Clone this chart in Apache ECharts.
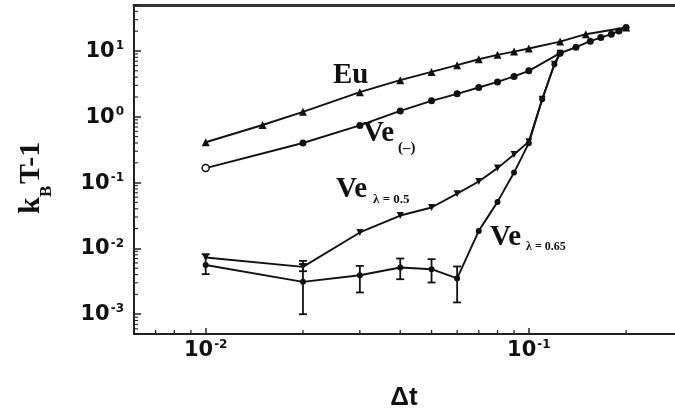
<!DOCTYPE html>
<html><head><meta charset="utf-8">
<script src="https://cdn.jsdelivr.net/npm/echarts@6/dist/echarts.min.js"></script>
<style>html,body{margin:0;padding:0;background:#fff}#c{width:675px;height:416px}</style>
</head><body><div id="c"></div>
<script>
// ---- data ----
const euX  = [0.01, 0.015, 0.02, 0.03, 0.04, 0.05, 0.06, 0.07, 0.08, 0.09, 0.1, 0.125, 0.15, 0.2];
const euY  = [0.41, 0.75, 1.19, 2.37, 3.6, 4.81, 6.09, 7.5, 8.73, 9.8, 10.9, 13.9, 18.0, 22.8];
const veX  = [0.01, 0.02, 0.03, 0.04, 0.05, 0.06, 0.07, 0.08, 0.09, 0.1, 0.125, 0.14, 0.155, 0.167, 0.18, 0.19, 0.2];
const veY  = [0.166, 0.40, 0.74, 1.23, 1.75, 2.23, 2.79, 3.39, 4.10, 4.99, 9.26, 11.4, 14.1, 16.0, 18.0, 20.2, 22.8];
const l5X  = [0.01, 0.02, 0.03, 0.04, 0.05, 0.06, 0.07, 0.08, 0.09, 0.1, 0.11, 0.12, 0.125];
const l5Y  = [0.00728, 0.00524, 0.01746, 0.0316, 0.0418, 0.0678, 0.104, 0.166, 0.267, 0.419, 1.85, 6.3, 9.26];
const l65X = [0.01, 0.02, 0.03, 0.04, 0.05, 0.06, 0.07, 0.08, 0.09, 0.1, 0.11, 0.12, 0.125];
const l65Y = [0.0056, 0.0031, 0.0039, 0.00513, 0.00483, 0.00349, 0.01845, 0.0509, 0.142, 0.397, 1.85, 6.3, 9.26];
// error bars: x, low, high
const errX    = [0.01, 0.02, 0.03, 0.04, 0.05, 0.06, 0.02];
const errLow  = [0.00406, 0.001, 0.00214, 0.0034, 0.00303, 0.00151, 0.0045];
const errHigh = [0.00817, 0.00575, 0.00542, 0.00702, 0.00686, 0.00531, 0.00646];
// axes
const xMin = 0.006, xMax = 0.3, yMin = 5e-4, yMax = 50;
const xMinorTicks = [0.007, 0.008, 0.009, 0.02, 0.03, 0.04, 0.05, 0.06, 0.07, 0.08, 0.09, 0.2];
const yMinorTicks = [6e-4, 7e-4, 8e-4, 9e-4,
  0.002, 0.003, 0.004, 0.005, 0.006, 0.007, 0.008, 0.009,
  0.02, 0.03, 0.04, 0.05, 0.06, 0.07, 0.08, 0.09,
  0.2, 0.3, 0.4, 0.5, 0.6, 0.7, 0.8, 0.9,
  2, 3, 4, 5, 6, 7, 8, 9, 20, 30, 40];

const INK = '#111';
const zip = (a, b) => a.map((v, i) => [v, b[i]]);
const powLabel = v => {
  const l = Math.log10(v);
  if (Math.abs(l - Math.round(l)) > 1e-6) return '';
  return '{b|10}{s|' + Math.round(l) + '}';
};
const labelRich = {
  b: {fontFamily: '"DejaVu Sans", "Liberation Sans", Arial', fontWeight: 'bold', fontSize: 21, color: INK, lineHeight: 22, verticalAlign: 'bottom'},
  s: {fontFamily: '"DejaVu Sans", "Liberation Sans", Arial', fontWeight: 'bold', fontSize: 12, color: INK, lineHeight: 22, verticalAlign: 'top', padding: [0, 0, 0, 1]}
};
const lineSeries = (name, xs, ys, extra) => Object.assign({
  name, type: 'line', data: zip(xs, ys), symbolSize: 7,
  lineStyle: {color: INK, width: 1.9}, itemStyle: {color: INK},
  showSymbol: true, animation: false, z: 3
}, extra);

const chart = echarts.init(document.getElementById('c'), null, {renderer: 'canvas'});
const veData = zip(veX, veY).map((p, i) => i === 0
  ? {value: p, itemStyle: {color: '#fff', borderColor: INK, borderWidth: 1.5}} : p);

const serif = '"Liberation Serif", "Times New Roman", serif';
chart.setOption({
  animation: false,
  backgroundColor: '#fff',
  grid: {left: 134, top: 5, right: -8, bottom: 82, outerBoundsMode: 'none', containLabel: false},
  xAxis: [{
    type: 'log', min: xMin, max: xMax,
    axisLine: {lineStyle: {color: '#222', width: 2}},
    axisTick: {inside: true, length: 6, lineStyle: {color: '#222', width: 1.5}},
    axisLabel: {formatter: powLabel, rich: labelRich, margin: 5},
    splitLine: {show: false}
  }, {
    type: 'log', min: xMin, max: xMax, position: 'top',
    axisLine: {lineStyle: {color: '#333', width: 3}},
    axisTick: {show: false}, axisLabel: {show: false}, splitLine: {show: false}
  }],
  yAxis: {
    type: 'log', min: yMin, max: yMax,
    axisLine: {show: true, lineStyle: {color: '#222', width: 2}},
    axisTick: {inside: true, length: 7, lineStyle: {color: '#222', width: 1.5}},
    axisLabel: {formatter: powLabel, rich: labelRich, margin: 10},
    splitLine: {show: false}
  },
  series: [
    lineSeries('Eu', euX, euY, {symbol: 'triangle', symbolSize: 8}),
    lineSeries('Ve(-)', veX, veY, {symbol: 'circle', symbolSize: 7, data: veData}),
    lineSeries('Ve0.5', l5X, l5Y, {symbol: 'triangle', symbolRotate: 180, symbolSize: 7}),
    lineSeries('Ve0.65', l65X, l65Y, {symbol: 'circle', symbolSize: 6}),
    {
      type: 'custom', name: 'err', data: errX.map((x, i) => [x, errLow[i], errHigh[i]]),
      encode: {x: 0, y: [1, 2]}, z: 4,
      renderItem: (params, api) => {
        const x = api.value(0);
        const p1 = api.coord([x, api.value(1)]), p2 = api.coord([x, api.value(2)]);
        const w = 4, st = {stroke: INK, lineWidth: 1.8};
        return {type: 'group', children: [
          {type: 'line', shape: {x1: p1[0], y1: p1[1], x2: p2[0], y2: p2[1]}, style: st},
          {type: 'line', shape: {x1: p1[0] - w, y1: p1[1], x2: p1[0] + w, y2: p1[1]}, style: st},
          {type: 'line', shape: {x1: p2[0] - w, y1: p2[1], x2: p2[0] + w, y2: p2[1]}, style: st}
        ]};
      }
    },
    {
      type: 'custom', name: 'xminor', data: xMinorTicks.map(v => [v, yMin]), z: 5, silent: true,
      renderItem: (params, api) => {
        const p = api.coord([api.value(0), api.value(1)]);
        return {type: 'line', shape: {x1: p[0], y1: p[1], x2: p[0], y2: p[1] - 4}, style: {stroke: '#222', lineWidth: 1.3}};
      }
    },
    {
      type: 'custom', name: 'yminor', data: yMinorTicks.map(v => [xMin, v]), z: 5, silent: true,
      renderItem: (params, api) => {
        const p = api.coord([api.value(0), api.value(1)]);
        return {type: 'line', shape: {x1: p[0], y1: p[1], x2: p[0] + 4, y2: p[1]}, style: {stroke: '#222', lineWidth: 1.1}};
      }
    }
  ],
  graphic: [
    {type: 'text', left: 333, top: 61, style: {text: 'Eu', font: 'bold 29px ' + serif, fill: INK}},
    {type: 'text', left: 363, top: 119, style: {text: 'Ve', font: 'bold 29px ' + serif, fill: INK}},
    {type: 'text', left: 398, top: 141, style: {text: '(–)', font: 'bold 15px ' + serif, fill: INK}},
    {type: 'text', left: 336, top: 175, style: {text: 'Ve', font: 'bold 29px ' + serif, fill: INK}},
    {type: 'text', left: 373, top: 193, style: {text: 'λ = 0.5', font: 'bold 13px ' + serif, fill: INK}},
    {type: 'text', left: 490, top: 223, style: {text: 'Ve', font: 'bold 29px ' + serif, fill: INK}},
    {type: 'text', left: 526, top: 241, style: {text: 'λ = 0.65', font: 'bold 12px ' + serif, fill: INK}},
    {type: 'text', x: 404, y: 398, style: {text: 'Δt', font: 'bold 26px "Liberation Sans"', fill: INK, align: 'center', verticalAlign: 'middle'}},
    {type: 'text', x: 31, y: 214, rotation: Math.PI / 2, style: {text: 'k', font: 'bold 30px ' + serif, fill: INK, align: 'left', verticalAlign: 'middle'}},
    {type: 'text', x: 47, y: 197, rotation: Math.PI / 2, style: {text: 'B', font: 'bold 17px ' + serif, fill: INK, align: 'left', verticalAlign: 'middle'}},
    {type: 'text', x: 31, y: 184, rotation: Math.PI / 2, style: {text: 'T-1', font: 'bold 30px ' + serif, fill: INK, align: 'left', verticalAlign: 'middle'}}
  ]
});
</script>
</body></html>
